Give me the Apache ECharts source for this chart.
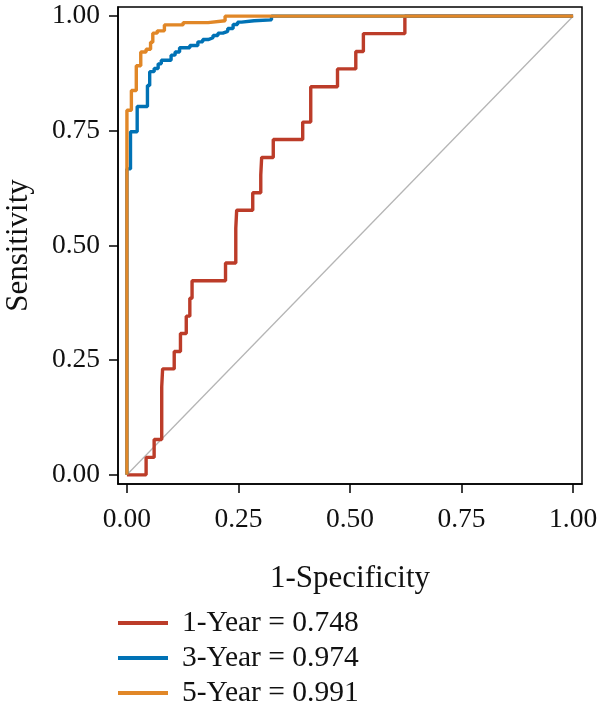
<!DOCTYPE html>
<html>
<head>
<meta charset="utf-8">
<script src="https://cdn.jsdelivr.net/npm/echarts@6/dist/echarts.min.js"></script>
<style>
  html, body { margin: 0; padding: 0; background: #fff; }
  #chart { width: 600px; height: 713px; }
</style>
</head>
<body>
<div id="chart"></div>
<script>
// ROC curves (1-Specificity vs Sensitivity), corner points of each step
var fpr1 = [0, 0.043, 0.061, 0.078, 0.080, 0.106, 0.120, 0.133, 0.141, 0.146, 0.221, 0.244, 0.246, 0.282, 0.300, 0.302, 0.328, 0.394, 0.412, 0.472, 0.513, 0.530, 0.623, 1];
var tpr1 = [0, 0.038, 0.077, 0.192, 0.231, 0.269, 0.308, 0.346, 0.385, 0.423, 0.462, 0.538, 0.577, 0.615, 0.654, 0.692, 0.731, 0.769, 0.846, 0.885, 0.923, 0.962, 1, 1];

var fpr3 = [0, 0, 0.008, 0.023, 0.046, 0.051, 0.061, 0.070, 0.077, 0.099, 0.108, 0.118, 0.141, 0.159, 0.170, 0.182, 0.193, 0.204, 0.215, 0.226, 0.238, 0.248, 0.257, 0.285, 0.324, 1];
var tpr3 = [0, 0.667, 0.748, 0.803, 0.849, 0.879, 0.886, 0.896, 0.904, 0.915, 0.922, 0.931, 0.936, 0.944, 0.949, 0.953, 0.958, 0.963, 0.967, 0.973, 0.982, 0.987, 0.990, 0.992, 1, 1];

var fpr5 = [0, 0, 0.010, 0.021, 0.031, 0.043, 0.053, 0.058, 0.068, 0.084, 0.126, 0.182, 0.220, 1];
var tpr5 = [0, 0.795, 0.838, 0.892, 0.922, 0.928, 0.943, 0.963, 0.968, 0.981, 0.986, 0.990, 1, 1];

var names = ['1-Year = 0.748', '3-Year = 0.974', '5-Year = 0.991'];
var colors = ['#BC3C29', '#0072B5', '#E18727'];
var ticks = [0, 0.25, 0.5, 0.75, 1];

var font = 'Liberation Serif';

function zip(xs, ys) {
  return xs.map(function (x, i) { return [x, ys[i]]; });
}

function rocSeries(i, xs, ys) {
  return {
    name: names[i],
    type: 'line',
    step: 'end',
    symbol: 'none',
    data: zip(xs, ys),
    lineStyle: { color: colors[i], width: 3.4 },
    itemStyle: { color: colors[i] },
    z: 3 + i
  };
}

var chart = echarts.init(document.getElementById('chart'), null, { renderer: 'canvas' });

chart.setOption({
  animation: false,
  backgroundColor: '#fff',
  grid: {
    left: 118, top: 7, width: 464, height: 477,
    show: true,
    borderColor: '#000',
    borderWidth: 1.5,
    outerBoundsMode: 'none'
  },
  legend: {
    orient: 'vertical',
    left: 118,
    top: 608,
    padding: 0,
    height: 105,
    itemWidth: 50,
    itemHeight: 4,
    itemGap: 5,
    icon: 'rect',
    data: names,
    textStyle: {
      fontFamily: font,
      fontSize: 29.5,
      color: '#111',
      lineHeight: 30,
      padding: [0, 0, 0, 9]
    }
  },
  xAxis: {
    type: 'value',
    min: -0.02,
    max: 1.02,
    name: '1-Specificity',
    nameLocation: 'middle',
    nameGap: 79,
    nameTextStyle: { fontFamily: font, fontSize: 31, color: '#111' },
    axisLine: { onZero: false, lineStyle: { color: '#000', width: 1.5 } },
    axisTick: { show: true, length: 9, customValues: ticks, lineStyle: { color: '#000', width: 1.5 } },
    axisLabel: {
      customValues: ticks,
      margin: 22,
      fontFamily: font, fontSize: 27.5, color: '#111',
      formatter: function (v) { return v.toFixed(2); }
    },
    splitLine: { show: false }
  },
  yAxis: {
    type: 'value',
    min: -0.02,
    max: 1.02,
    name: 'Sensitivity',
    nameLocation: 'middle',
    nameGap: 84,
    nameRotate: 90,
    nameTextStyle: { fontFamily: font, fontSize: 31, color: '#111' },
    axisLine: { onZero: false, lineStyle: { color: '#000', width: 1.5 } },
    axisTick: { show: true, length: 9, customValues: ticks, lineStyle: { color: '#000', width: 1.5 } },
    axisLabel: {
      customValues: ticks,
      margin: 18,
      fontFamily: font, fontSize: 27.5, color: '#111',
      formatter: function (v) { return v.toFixed(2); }
    },
    splitLine: { show: false }
  },
  series: [
    {
      name: 'ref',
      type: 'line',
      symbol: 'none',
      data: [[0, 0], [1, 1]],
      lineStyle: { color: '#B5B5B5', width: 1.3 },
      z: 2
    },
    rocSeries(0, fpr1, tpr1),
    rocSeries(1, fpr3, tpr3),
    rocSeries(2, fpr5, tpr5)
  ]
});
</script>
</body>
</html>
